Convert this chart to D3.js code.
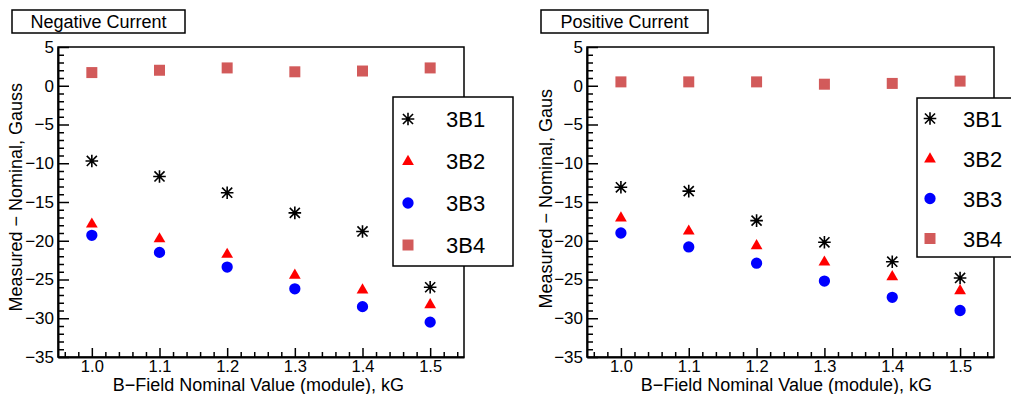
<!DOCTYPE html>
<html>
<head>
<meta charset="utf-8">
<script src="https://cdn.jsdelivr.net/npm/d3@7"></script>
<style>
  html, body { margin: 0; padding: 0; background: #fff; }
  svg { display: block; font-family: "Liberation Sans", Arial, Helvetica, sans-serif; }
</style>
</head>
<body>
<svg id="chart" width="1011" height="394"></svg>
<script>
// Nominal field settings (kG)
const fieldValues = [1.0, 1.1, 1.2, 1.3, 1.4, 1.5];
const fieldTickLabels = ["1.0", "1.1", "1.2", "1.3", "1.4", "1.5"];
const gaussTicks = [-35, -30, -25, -20, -15, -10, -5, 0, 5];

// Measured − nominal (Gauss), negative coil current
const negB1 = [-9.7, -11.7, -13.8, -16.4, -18.8, -26.0];
const negB2 = [-17.8, -19.7, -21.7, -24.4, -26.3, -28.2];
const negB3 = [-19.3, -21.5, -23.4, -26.2, -28.5, -30.5];
const negB4 = [1.7, 2.0, 2.3, 1.8, 1.9, 2.3];

// Measured − nominal (Gauss), positive coil current
const posB1 = [-13.1, -13.6, -17.4, -20.2, -22.7, -24.8];
const posB2 = [-17.0, -18.7, -20.6, -22.7, -24.6, -26.4];
const posB3 = [-19.0, -20.8, -22.9, -25.2, -27.3, -29.0];
const posB4 = [0.5, 0.5, 0.5, 0.2, 0.3, 0.6];

const probeNames = ["3B1", "3B2", "3B3", "3B4"];

const svg = d3.select("#chart");

// Marker styles per probe
const markerStyle = {
  "3B1": { kind: "star", color: "#000000" },
  "3B2": { kind: "triangle", color: "#ff0000" },
  "3B3": { kind: "circle", color: "#0000ff" },
  "3B4": { kind: "square", color: "#d25a5a" }
};

function drawMarker(g, kind, color, x, y) {
  if (kind === "star") {
    const r = 6.3;
    const d = r * 0.8;
    g.append("path")
      .attr("d", `M${x - r},${y}H${x + r}M${x},${y - r}V${y + r}` +
                 `M${x - d},${y - d}L${x + d},${y + d}M${x - d},${y + d}L${x + d},${y - d}`)
      .attr("stroke", color).attr("stroke-width", 1.6).attr("fill", "none");
  } else {
    const sym = kind === "triangle" ? d3.symbolTriangle
              : kind === "circle" ? d3.symbolCircle : d3.symbolSquare;
    const size = kind === "triangle" ? 60 : kind === "circle" ? 100 : 121;
    g.append("path")
      .attr("d", d3.symbol().type(sym).size(size)())
      .attr("transform", `translate(${x},${y + (kind === "triangle" ? 0.5 : 0)})`)
      .attr("fill", color);
  }
}

function drawPanel(cfg) {
  const { left, right, top, bottom } = cfg.frame;
  const x = d3.scaleLinear().domain([0.95, 1.55]).range([left, right]);
  const y = d3.scaleLinear().domain([-35, 5]).range([bottom, top]);
  const g = svg.append("g");

  // Frame
  g.append("rect")
    .attr("x", left).attr("y", top)
    .attr("width", right - left).attr("height", bottom - top)
    .attr("fill", "none").attr("stroke", "#000").attr("stroke-width", 1.5);

  // Minor ticks
  const minorX = d3.range(0.96, 1.5401, 0.02).filter(v => Math.abs(Math.round(v * 10) - v * 10) > 1e-6);
  g.append("g")
    .attr("transform", `translate(0,${bottom})`)
    .call(d3.axisBottom(x).tickValues(minorX).tickSizeInner(-5).tickSizeOuter(0).tickFormat(""))
    .call(a => a.select(".domain").remove())
    .selectAll("line").attr("stroke-width", 1.5);
  const minorY = d3.range(-34, 5, 1).filter(v => v % 5 !== 0);
  g.append("g")
    .attr("transform", `translate(${left},0)`)
    .call(d3.axisLeft(y).tickValues(minorY).tickSizeInner(-6).tickSizeOuter(0).tickFormat(""))
    .call(a => a.select(".domain").remove())
    .selectAll("line").attr("stroke-width", 1.5);

  // Major ticks with labels
  const xAxis = g.append("g")
    .attr("transform", `translate(0,${bottom})`)
    .call(d3.axisBottom(x).tickValues(fieldValues).tickSizeInner(-9).tickSizeOuter(0)
      .tickPadding(3).tickFormat((d, i) => fieldTickLabels[i]));
  xAxis.select(".domain").attr("stroke-width", 2);
  xAxis.selectAll("line").attr("stroke-width", 1.5);
  xAxis.selectAll("text").attr("font-size", 16.5).attr("font-family", null).attr("fill", "#000");

  const yAxis = g.append("g")
    .attr("transform", `translate(${left},0)`)
    .call(d3.axisLeft(y).tickValues(gaussTicks).tickSizeInner(-11).tickSizeOuter(0)
      .tickPadding(4).tickFormat(d => d < 0 ? "\u2212" + Math.abs(d) : String(d)));
  yAxis.select(".domain").attr("stroke-width", 2);
  yAxis.selectAll("line").attr("stroke-width", 1.5);
  yAxis.selectAll("text").attr("font-size", 17).attr("font-family", null).attr("fill", "#000");

  // Axis titles
  g.append("text")
    .attr("x", right - cfg.xTitleInset).attr("y", 391)
    .attr("text-anchor", "end").attr("font-size", 18)
    .text("B\u2212Field Nominal Value (module), kG");
  g.append("text")
    .attr("transform", `translate(${cfg.yTitleX},${cfg.yTitleEnd}) rotate(-90)`)
    .attr("text-anchor", "end").attr("font-size", 18)
    .text(cfg.yTitle);

  // Data points
  const pts = g.append("g");
  cfg.series.forEach((vals, si) => {
    const st = markerStyle[probeNames[si]];
    vals.forEach((v, i) => drawMarker(pts, st.kind, st.color, x(fieldValues[i]), y(v)));
  });

  // Title box
  const tb = cfg.titleBox;
  g.append("rect")
    .attr("x", tb.x).attr("y", tb.y).attr("width", tb.w).attr("height", tb.h)
    .attr("fill", "#fff").attr("stroke", "#000").attr("stroke-width", 1.5);
  g.append("text")
    .attr("x", tb.x + tb.w / 2).attr("y", tb.y + tb.h / 2 + 6.5)
    .attr("text-anchor", "middle").attr("font-size", 18)
    .text(cfg.title);

  // Legend
  const lg = cfg.legend;
  g.append("rect")
    .attr("x", lg.x).attr("y", lg.y).attr("width", lg.w).attr("height", lg.h)
    .attr("fill", "#fff").attr("stroke", "#000").attr("stroke-width", 1.5);
  probeNames.forEach((name, i) => {
    const cy = lg.firstRow + i * lg.rowStep;
    const st = markerStyle[name];
    drawMarker(g, st.kind, st.color, lg.markerX, cy);
    g.append("text")
      .attr("x", lg.textX).attr("y", cy + 8)
      .attr("font-size", 22)
      .text(name);
  });
}

drawPanel({
  frame: { left: 58, right: 464, top: 47, bottom: 357 },
  series: [negB1, negB2, negB3, negB4],
  title: "Negative Current",
  titleBox: { x: 12, y: 10, w: 173, h: 23 },
  yTitle: "Measured \u2212 Nominal, Gauss",
  yTitleX: 22, yTitleEnd: 83,
  xTitleInset: 60,
  legend: { x: 393, y: 97, w: 120, h: 169, markerX: 408, textX: 446, firstRow: 119, rowStep: 42 }
});

drawPanel({
  frame: { left: 587, right: 994, top: 47, bottom: 357 },
  series: [posB1, posB2, posB3, posB4],
  title: "Positive Current",
  titleBox: { x: 541, y: 10, w: 167, h: 23 },
  yTitle: "Measured \u2212 Nominal, Gaus",
  yTitleX: 552, yTitleEnd: 89,
  xTitleInset: 62,
  legend: { x: 917, y: 98, w: 110, h: 159, markerX: 930, textX: 963, firstRow: 118.5, rowStep: 40 }
});
</script>
</body>
</html>
